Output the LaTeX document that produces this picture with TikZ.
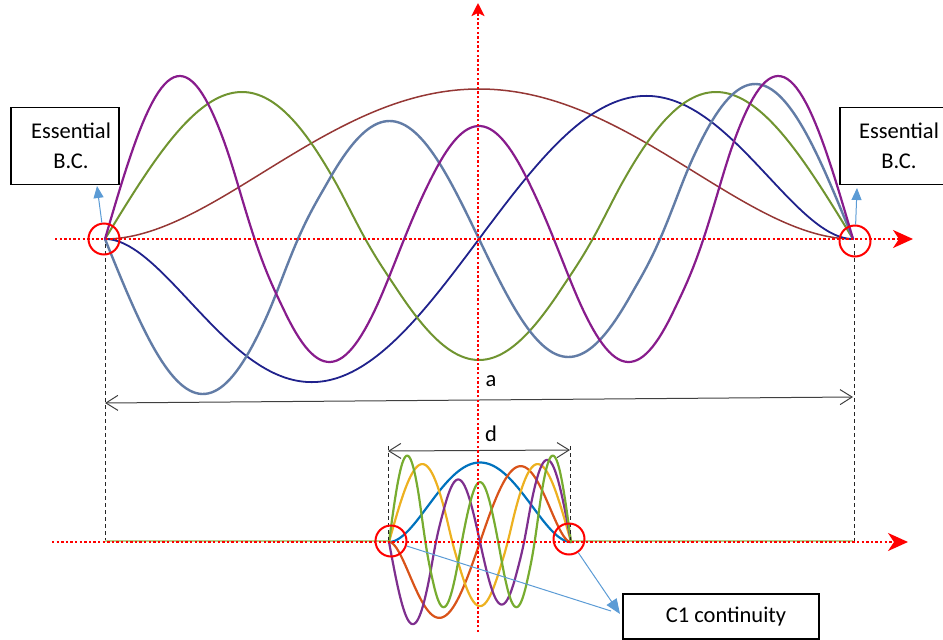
\documentclass[tikz,border=0pt]{standalone}
\usepackage{fontspec}
\setmainfont{Carlito}
\usetikzlibrary{arrows.meta}
\definecolor{cbrown}{RGB}{149,55,53}
\definecolor{cnavy}{RGB}{32,34,140}
\definecolor{cgreen}{RGB}{112,148,48}
\definecolor{cslate}{RGB}{98,124,166}
\definecolor{cpurple}{RGB}{136,28,140}
\definecolor{mblue}{RGB}{0,114,189}
\definecolor{morange}{RGB}{217,83,25}
\definecolor{myellow}{RGB}{237,177,32}
\definecolor{mpurple}{RGB}{126,47,142}
\definecolor{mgreen}{RGB}{119,172,48}
\definecolor{callout}{RGB}{91,155,213}
\definecolor{dimgray}{RGB}{64,64,64}
\begin{document}
\begin{tikzpicture}[x=1pt,y=-1pt,
  declare function={
    tu(\s)=(\s-479)/374; tt(\s)=(\s-105)/748;
    bu(\s)=(\s-480)/91;  bt(\s)=(\s-389)/182;
    cl(\q)=min(1,max(-1,\q));
    ss(\q)=0.5-0.75*cl(\q)+0.25*cl(\q)*cl(\q)*cl(\q);
    stp(\p,\r)=ss((\p-\r)/0.04);
    sym(\p,\r)=stp(\p,\r)+stp(1-\p,\r);
    fgreen(\p)=(121+26*sym(\p,0.348))*sin(540*(\p-0.018*sin(360*\p)));
    fslate(\p)=(118+37*sym(\p,0.257))*sin(720*(\p-0.008*sin(360*\p)));
    fpurp(\p)=(113+10*sym(\p,0.4)+40*sym(\p,0.2))*sin(900*\p);
  },
  topc/.style={samples=240, line cap=round, line join=round},
  botc/.style={samples=180, line width=2.2pt, line cap=round, line join=round},
  raxis/.style={draw=red, line width=2.4pt, dash pattern=on 2.4pt off 2.2pt},
  rc/.style={circle, draw=red, line width=2pt, minimum size=31pt, inner sep=0pt},
  box/.style={draw=black, line width=1.5pt, inner sep=0pt, fill=white},
  lbl/.style={font=\fontsize{22.5}{30}\selectfont, align=center, inner sep=0pt},
  dim/.style={draw=dimgray, line width=1pt, {Straight Barb[length=12pt,width=15pt]}-{Straight Barb[length=12pt,width=15pt]}},
  dashln/.style={draw=black!85, line width=1pt, dash pattern=on 4pt off 3pt},
  callline/.style={draw=callout, line width=1pt},
  callarrow/.style={callline, -{Triangle[length=12pt,width=10pt]}}]
\path[use as bounding box, clip] (0,0) rectangle (943,640);

% top curves
\draw[topc, cbrown, line width=1.5pt] plot[domain=105:853, variable=\x] (\x,{239-150*(1-tu(\x)*tu(\x))^2});
\draw[topc, cnavy, line width=1.8pt] plot[domain=105:853, variable=\x] (\x,{239-500*tu(\x)*(1-tu(\x)*tu(\x))^2});
\draw[topc, cgreen, line width=2pt] plot[domain=105:853, variable=\x] (\x,{239-fgreen(tt(\x))});
\draw[topc, cslate, line width=2.4pt] plot[domain=105:853, variable=\x] (\x,{239+fslate(tt(\x))});
\draw[topc, cpurple, line width=2.2pt] plot[domain=105:853, variable=\x] (\x,{239-fpurp(tt(\x))});

% bottom zero extension
\draw[mgreen!55, line width=2pt] (105,541) -- (389,541);
\draw[mgreen!55, line width=2pt] (571,541) -- (853,541);

% bottom curves
\draw[botc, mblue] plot[domain=389:571, variable=\x] (\x,{542-79.5*(1-bu(\x)*bu(\x))^2});
\draw[botc, morange] plot[domain=389:571, variable=\x] (\x,{542-265*bu(\x)*(1-bu(\x)*bu(\x))^2});
\draw[botc, myellow] plot[domain=389:571, variable=\x] (\x,{542-0.53*fgreen(bt(\x))});
\draw[botc, mpurple] plot[domain=389:571, variable=\x] (\x,{542+0.53*fslate(bt(\x))});
\draw[botc, mgreen] plot[domain=389:571, variable=\x] (\x,{542-0.53*fpurp(bt(\x))});

% dashed guides
\draw[dashln] (105,244) -- (105,540);
\draw[dashln] (854,244) -- (854,541);
\draw[dashln] (388,446) -- (388,540);
\draw[dashln] (570,446) -- (570,540);

% dimensions
\coordinate (aL) at (105,403);
\coordinate (aR) at (853,397);
\draw[dim] (aL) -- (aR);
\coordinate (dL) at (388,451);
\coordinate (dR) at (570,450);
\draw[dim] (dL) -- (dR);
\node[lbl] (la) at (491,381) {a};
\node[lbl] (ld) at (491,434) {d};

% axes
\coordinate (xs) at (55,239);
\coordinate (xe) at (913,239);
\coordinate (ys) at (478,632);
\coordinate (ye) at (478,3);
\coordinate (bs) at (52,542);
\coordinate (be) at (908,542);
\draw[raxis, -{Stealth[length=20pt,width=18pt,inset=6pt]}] (xs) -- (xe);
\draw[raxis, -{Stealth[length=13pt,width=13pt,inset=3pt]}] (ys) -- (ye);
\draw[raxis, -{Stealth[length=20pt,width=18pt,inset=6pt]}] (bs) -- (be);

% circles
\node[rc] (cTL) at (104,239) {};
\node[rc] (cTR) at (855,241) {};
\node[rc] (cBL) at (391,541) {};
\node[rc] (cBR) at (569,539) {};

% boxes
\node[box, minimum width=108pt, minimum height=77pt] (boxL) at (65,146) {};
\node[lbl] (txtL) at (71,146) {Essential\\B.C.};
\node[box, minimum width=112pt, minimum height=77pt] (boxR) at (896,146) {};
\node[lbl] (txtR) at (899,146) {Essential\\B.C.};
\node[box, minimum width=196pt, minimum height=45pt] (boxC) at (721,616.5) {};
\node[lbl] (txtC) at (726,617) {C1 continuity};

% callouts
\coordinate (tTL) at (97,186);
\coordinate (tTR) at (857,188);
\coordinate (tC) at (620,614);
\coordinate (tC2) at (611,611);
\draw[callarrow] (cTL) -- (tTL);
\draw[callarrow] (cTR) -- (tTR);
\draw[callline] (cBL) -- (tC2);
\draw[callline, -{Triangle[length=15pt,width=12pt]}] (cBR) -- (tC);
\end{tikzpicture}
\end{document}
